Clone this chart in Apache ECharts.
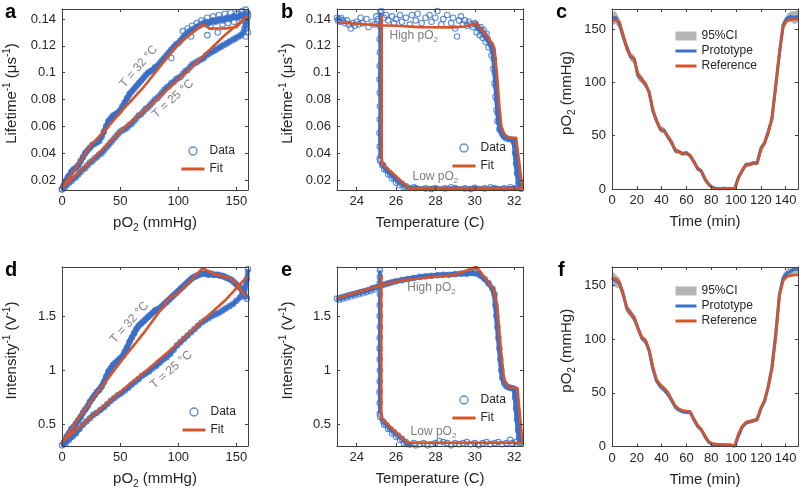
<!DOCTYPE html>
<html><head><meta charset="utf-8">
<script src="https://cdn.jsdelivr.net/npm/echarts@6.0.0/dist/echarts.min.js"></script>
<style>html,body{margin:0;padding:0;background:#fff}#chart{width:800px;height:499px}</style>
</head><body><div id="chart"></div>
<script>
// ---------------- DATA ----------------
// Panel a: lifetime^-1 vs pO2
const aData32 = [[0,0.013],[1,0.015],[2,0.017],[3,0.019],[4,0.020],[5,0.022],[6,0.023],[8,0.026],[10,0.028],[12,0.029],[14,0.031],[16,0.034],[18,0.037],[20,0.040],[22,0.042],[24,0.044],[26,0.046],[28,0.047],[30,0.048],[32,0.049],[34,0.052],[36,0.056],[38,0.060],[40,0.064],[42,0.066],[44,0.068],[46,0.069],[48,0.070],[50,0.072],[52,0.075],[54,0.078],[56,0.081],[58,0.084],[60,0.086],[62,0.088],[64,0.090],[66,0.092],[68,0.094],[70,0.096],[72,0.098],[74,0.100],[76,0.101],[78,0.102],[80,0.104],[82,0.105],[84,0.107],[86,0.109],[88,0.111],[90,0.113],[92,0.115],[94,0.117],[96,0.119],[98,0.121],[100,0.122],[102,0.124],[104,0.126],[106,0.128],[108,0.129],[110,0.131],[112,0.132],[114,0.133],[116,0.134],[118,0.135],[120,0.136],[122,0.137],[124,0.138],[126,0.137],[128,0.138],[130,0.139],[132,0.138],[134,0.139],[136,0.140],[138,0.139],[140,0.140],[142,0.141],[144,0.140],[146,0.141],[148,0.142],[150,0.141],[152,0.142],[154,0.143],[156,0.142],[158,0.144],[159,0.145]];
const aData25 = [[0,0.013],[2,0.014],[4,0.016],[6,0.018],[8,0.019],[10,0.021],[12,0.022],[14,0.024],[16,0.026],[18,0.028],[20,0.029],[22,0.031],[24,0.033],[26,0.034],[28,0.036],[30,0.037],[32,0.039],[34,0.040],[36,0.042],[38,0.044],[40,0.046],[42,0.048],[44,0.050],[46,0.052],[48,0.054],[50,0.056],[52,0.057],[54,0.058],[56,0.059],[58,0.061],[60,0.062],[62,0.064],[64,0.066],[66,0.068],[68,0.069],[70,0.071],[72,0.073],[74,0.074],[76,0.076],[78,0.078],[80,0.080],[82,0.081],[84,0.083],[86,0.085],[88,0.087],[90,0.089],[92,0.090],[94,0.092],[96,0.093],[98,0.095],[100,0.096],[102,0.097],[104,0.099],[106,0.101],[108,0.102],[110,0.104],[112,0.106],[114,0.107],[116,0.108],[118,0.109],[120,0.110],[122,0.111],[124,0.113],[126,0.114],[128,0.115],[130,0.116],[132,0.117],[134,0.118],[136,0.119],[138,0.120],[140,0.121],[142,0.122],[144,0.123],[146,0.124],[148,0.125],[150,0.126],[152,0.127],[154,0.128],[156,0.130],[157,0.133],[158,0.136],[159,0.139],[160,0.142]];
const aDataExtra = [[104,0.131],[108,0.133],[112,0.135],[116,0.137],[120,0.139],[125,0.141],[130,0.142],[135,0.143],[140,0.144],[145,0.145],[150,0.144],[155,0.146],[158,0.147],[128,0.134],[138,0.136],[148,0.138],[155,0.139],[159,0.136],[159,0.133],[160,0.130],[158,0.127],[108,0.130],[125,0.128],[134,0.130],[94,0.111],[111,0.127],[143,0.137],[152,0.144],[157,0.141],[160,0.144]];
const aFit32 = [[0,0.014],[12,0.029],[24,0.045],[38,0.058],[52,0.072],[70,0.089],[91,0.112],[101,0.122],[121,0.136],[127,0.133],[140,0.133],[150,0.134],[159,0.142]];
const aFit25 = [[0,0.014],[25,0.034],[50,0.056],[75,0.075],[100,0.095],[120,0.111],[140,0.128],[159,0.142]];

// Panel b: lifetime^-1 vs temperature
const bDataHigh = [[23.0,0.141],[23.05,0.139],[23.1,0.140],[23.15,0.138],[23.2,0.141],[23.3,0.139],[23.4,0.137],[23.5,0.139],[23.6,0.136],[23.7,0.133],[23.8,0.137],[23.9,0.135],[24.0,0.138],[24.1,0.136],[24.2,0.141],[24.3,0.137],[24.5,0.140],[24.6,0.134],[24.8,0.138],[24.9,0.136],[25.0,0.142],[25.1,0.140],[25.25,0.146],[25.4,0.141],[25.5,0.143],[25.6,0.139],[25.8,0.142],[25.9,0.137],[26.0,0.140],[26.2,0.143],[26.3,0.138],[26.5,0.141],[26.7,0.136],[26.8,0.143],[27.0,0.139],[27.1,0.144],[27.3,0.137],[27.5,0.141],[27.7,0.143],[27.8,0.138],[28.0,0.141],[28.1,0.146],[28.3,0.136],[28.4,0.140],[28.6,0.143],[28.8,0.137],[28.9,0.141],[29.0,0.133],[29.1,0.127],[29.2,0.139],[29.3,0.142],[29.4,0.136],[29.5,0.139],[29.6,0.135],[29.7,0.138],[29.8,0.136],[29.9,0.134],[30.0,0.137]];
const bDataDrop = [[30.05,0.136],[30.2,0.133],[30.35,0.131],[30.5,0.128],[30.65,0.125],[30.8,0.121],[30.9,0.117],[30.97,0.110],[31.02,0.100],[31.07,0.090],[31.12,0.080],[31.17,0.070],[31.22,0.063],[31.3,0.057],[31.4,0.054],[31.5,0.052],[31.6,0.051],[31.75,0.0505],[31.9,0.050],[32.0,0.048],[32.05,0.040],[32.1,0.032],[32.15,0.025],[32.22,0.018],[32.3,0.0145]];
const bDataDropExtra = [[30.1,0.130],[30.25,0.128],[30.4,0.126],[30.55,0.123],[30.7,0.119],[30.85,0.113],[30.95,0.103],[31.0,0.092],[31.05,0.082],[31.1,0.072],[31.15,0.064],[31.25,0.058],[30.3,0.134],[30.45,0.132],[30.6,0.129]];
const bDataLow = [[32.35,0.0135],[32.0,0.014],[31.5,0.0138],[31.0,0.014],[30.5,0.0137],[30.0,0.0141],[29.5,0.0137],[29.0,0.014],[28.5,0.0137],[28.0,0.014],[27.5,0.0137],[27.0,0.0139],[26.7,0.014],[26.5,0.0152],[26.3,0.017],[26.1,0.019],[25.9,0.0215],[25.7,0.0245],[25.5,0.0275],[25.35,0.031],[25.2,0.034]];
const bDataLowExtra = [[26.4,0.0145],[26.2,0.016],[26.0,0.018],[25.8,0.021],[25.6,0.024],[25.4,0.028],[25.3,0.031],[31.8,0.0145],[30.8,0.0145],[29.8,0.0133],[28.8,0.0145],[27.8,0.0133],[26.9,0.0145]];
const bDataVert = [[25.17,0.036],[25.17,0.045],[25.16,0.055],[25.17,0.065],[25.18,0.075],[25.17,0.085],[25.16,0.095],[25.17,0.105],[25.18,0.115],[25.17,0.125],[25.17,0.135],[25.2,0.145]];
const bFit = [[23,0.1374],[24,0.1365],[25,0.1355],[26,0.135],[27.2,0.134],[28.9,0.1338],[29.5,0.1345],[30.1,0.1368],[30.9,0.1215],[31.0,0.118],[31.15,0.095],[31.25,0.075],[31.35,0.060],[31.5,0.054],[31.7,0.0515],[32.1,0.0515],[32.42,0.014],[26.65,0.014],[25.27,0.0325],[25.27,0.143]];

// Panels c and f: pO2 vs time
const timeMin = [0,3,6,9,12,15,18,21,24,27,30,33,36,39,42,45,48,51,54,57,60,63,66,69,72,75,78,81,84,87,90,93,96,99,102,105,108,111,114,117,120,123,126,129,132,135,138,141,144,147,150];
const cReference = [158,158.5,157,145,131,125,121,108,102,99.5,90,75,63,57,54,50,43,37,34.5,33.5,33,32,25,20,16.5,10,4,1,0.5,0.3,0.2,0.2,0.2,0.3,10,18,22,23.5,24,24.5,36,44,52,67,95,128,152,158,159,159.5,159.5];
const cPrototype = [160,161,155,143,133,124,122,106,103,98,91,73,64,56,55,49,44,36,35,33,34,31,26,19,17,9,4.5,1.5,0.5,0.2,0.5,0.3,0.4,0.5,11,17,23,23,24.5,24,38,43,54,66,97,127,154,160,162,161,162];
const cCIhalf = [6,6,5,5,4,4,4,4,4,3,3,3,3,3,3,3,3,3,2,2,2,2,2,2,2,2,1.5,1,1,1,1,1,1,1,2,2,2,2,2,2,2,2,3,3,3,3,4,4,5,6,6];
const fReference = [155.5,156,153,141,129,123,120.5,109,102,99,90,74,62,57.5,54.5,50.5,44,38,35,33.5,33,32.5,26,20,16,10,4.5,2.8,2.2,1.8,1.6,1.5,1.4,1,12,19,22.5,23.5,24,25.5,36,43,55,72,101,140,154,158,159,159.5,159.5];
const fPrototype = [157,154,152,142,128,124,119,110,101,98,89,72,61,56,53,49,43,37,34,32.5,32,32,25,19,15.5,9,4,2,1.8,1.5,1.5,1.3,1.2,0.2,10,18,22,23,24,25,35,42,56,74,104,141,157,161,163,165,165];
const fCIhalf = [6,6,5,5,4,4,4,4,3,3,3,3,3,3,3,3,3,3,2,2,2,2,2,2,2,2,1.5,1,1,1,1,1,1,1,2,2,2,2,2,2,2,2,3,3,3,3,4,4,5,5,5];

// Panel d: intensity^-1 vs pO2
const dData32 = [[0,0.31],[2,0.34],[4,0.39],[6,0.42],[8,0.46],[10,0.48],[12,0.51],[14,0.54],[16,0.57],[18,0.61],[20,0.64],[22,0.67],[24,0.71],[26,0.74],[28,0.77],[30,0.80],[32,0.82],[34,0.85],[36,0.89],[38,0.94],[40,0.99],[42,1.02],[44,1.05],[46,1.07],[48,1.09],[50,1.11],[52,1.13],[54,1.17],[56,1.21],[58,1.26],[60,1.30],[62,1.34],[64,1.38],[66,1.41],[68,1.43],[70,1.45],[72,1.47],[74,1.49],[76,1.51],[78,1.53],[80,1.55],[82,1.56],[84,1.57],[86,1.59],[88,1.61],[90,1.63],[92,1.65],[94,1.67],[96,1.69],[98,1.71],[100,1.73],[102,1.75],[104,1.77],[106,1.79],[108,1.81],[110,1.83],[112,1.85],[114,1.86],[116,1.87],[118,1.88],[120,1.89],[122,1.89],[124,1.89],[126,1.88],[128,1.89],[130,1.88],[132,1.88],[134,1.88],[136,1.87],[138,1.87],[140,1.86],[142,1.85],[144,1.84],[146,1.83],[148,1.81],[150,1.79],[152,1.77],[154,1.75],[156,1.72],[158,1.68],[159,1.66]];
const dData25 = [[0,0.30],[3,0.33],[6,0.36],[9,0.39],[12,0.42],[15,0.46],[18,0.50],[21,0.53],[24,0.56],[27,0.59],[30,0.61],[33,0.635],[36,0.66],[39,0.69],[42,0.72],[45,0.745],[48,0.77],[51,0.79],[54,0.815],[57,0.84],[60,0.87],[63,0.895],[66,0.92],[69,0.95],[72,0.97],[75,0.99],[78,1.02],[81,1.04],[84,1.07],[87,1.10],[90,1.12],[93,1.15],[96,1.19],[99,1.23],[102,1.26],[105,1.29],[108,1.32],[111,1.35],[114,1.38],[117,1.41],[120,1.44],[123,1.46],[126,1.48],[129,1.50],[132,1.515],[135,1.53],[138,1.55],[141,1.57],[144,1.59],[147,1.61],[150,1.64],[153,1.67],[155,1.70],[157,1.74],[158,1.78],[159,1.84],[160,1.93]];
const dFit32 = [[0,0.33],[15,0.57],[30,0.79],[52,1.10],[70,1.34],[92,1.66],[101,1.72],[121,1.94],[130,1.89],[144,1.85],[150,1.80],[158,1.68]];
const dFit25 = [[0,0.34],[25,0.57],[50,0.80],[75,1.02],[100,1.25],[120,1.45],[140,1.64],[159,1.86]];

// Panel e: intensity^-1 vs temperature
const eDataHigh = [[23,1.66],[23.2,1.67],[23.4,1.68],[23.6,1.69],[23.8,1.70],[24,1.71],[24.2,1.72],[24.4,1.73],[24.6,1.74],[24.8,1.755],[25,1.765],[25.2,1.775],[25.4,1.79],[25.6,1.80],[25.8,1.81],[26,1.82],[26.3,1.83],[26.6,1.84],[26.9,1.85],[27.2,1.86],[27.5,1.865],[27.8,1.87],[28.1,1.875],[28.4,1.88],[28.7,1.88],[29,1.885],[29.3,1.89],[29.6,1.89],[29.9,1.895],[30.1,1.89],[30.3,1.87],[30.5,1.84],[30.7,1.80],[30.9,1.75],[31.0,1.70],[31.05,1.60],[31.1,1.50],[31.15,1.40],[31.2,1.30],[31.25,1.20],[31.3,1.10],[31.35,1.00],[31.4,0.93],[31.5,0.88],[31.6,0.855],[31.7,0.845],[31.8,0.84],[31.9,0.835],[32.0,0.83],[32.05,0.75],[32.1,0.65],[32.15,0.55],[32.2,0.45],[32.25,0.38],[32.3,0.34]];
const eDataHighExtra = [[23.1,1.65],[23.3,1.66],[23.5,1.67],[23.7,1.68],[23.9,1.69],[24.1,1.70],[24.3,1.71],[24.5,1.72],[24.7,1.73],[24.9,1.745],[29.8,1.91],[30.0,1.91]];
const eDataDiag = [[25.2,0.57],[25.35,0.53],[25.5,0.50],[25.7,0.46],[25.9,0.43],[26.1,0.40],[26.3,0.37],[26.5,0.34],[26.6,0.32],[26.8,0.30]];
const eDataLow = [[32.3,0.33],[32.1,0.34],[31.9,0.33],[31.8,0.36],[31.6,0.33],[31.4,0.32],[31.2,0.34],[31.0,0.33],[30.8,0.32],[30.6,0.34],[30.4,0.33],[30.2,0.31],[30.0,0.33],[29.8,0.32],[29.6,0.34],[29.4,0.33],[29.2,0.32],[29.0,0.33],[28.8,0.31],[28.6,0.33],[28.4,0.34],[28.2,0.35],[28.0,0.33],[27.8,0.32],[27.6,0.31],[27.4,0.33],[27.2,0.32],[27.0,0.31],[26.9,0.33],[26.4,0.33],[26.2,0.36],[26.0,0.39],[25.8,0.42],[25.6,0.46],[25.4,0.50]];
const eDataVert = [[25.17,0.60],[25.17,0.70],[25.16,0.80],[25.17,0.90],[25.18,1.00],[25.17,1.10],[25.16,1.20],[25.17,1.30],[25.18,1.40],[25.17,1.50],[25.17,1.60],[25.18,1.70],[25.17,1.80],[25.18,1.86],[25.18,1.92]];
const eFit = [[23,1.663],[25.28,1.785],[26.38,1.831],[28.9,1.877],[29.28,1.898],[30.09,1.953],[30.97,1.739],[31.15,1.571],[31.32,1.187],[31.49,0.911],[31.74,0.844],[32.17,0.835],[32.42,0.334],[26.56,0.334],[25.25,0.559],[25.25,1.88]];

// Tick values
const ticksPO2 = [0,50,100,150];
const ticksTemp = [24,26,28,30,32];
const ticksTime = [0,20,40,60,80,100,120,140];
const ticksLife = [0.02,0.04,0.06,0.08,0.1,0.12,0.14];
const ticksInt = [0.5,1,1.5];
const ticksPO2y = [0,50,100,150];

// ---------------- STYLE ----------------
const BLUE = '#3b6fc8', ORANGE = '#d5542a', GRAY = '#b4b4b4', TXT = '#262626', ANN = '#7d7d7d', AX = '#404040';
const FONT = '"Liberation Sans", Arial, Helvetica, sans-serif';
const GRIDS = [
  {left:62, top:9, width:186, height:181},
  {left:337, top:9, width:186, height:181},
  {left:612, top:9, width:186, height:180},
  {left:62, top:267, width:186, height:179},
  {left:337, top:267, width:186, height:179},
  {left:612, top:267, width:186, height:179.5}
];
const rich = {
  t: {fontSize:15, fontFamily:FONT, color:TXT, lineHeight:20, verticalAlign:'middle'},
  s: {fontSize:10, fontFamily:FONT, color:TXT, lineHeight:10, verticalAlign:'top'},
  b: {fontSize:10, fontFamily:FONT, color:TXT, lineHeight:7, verticalAlign:'bottom'}
};
const xAxes = [], yAxes = [];
function addAxes(gi, xr, xt, xname, yr, yt, yname, ygap) {
  const common = {gridIndex:gi, type:'value', splitLine:{show:false}, z:5,
    axisLine:{show:true, onZero:false, lineStyle:{color:AX, width:1}}};
  xAxes.push(Object.assign({}, common, {position:'bottom', min:xr[0], max:xr[1],
    axisTick:{show:true, inside:true, length:3, customValues:xt, lineStyle:{color:AX}},
    axisLabel:{show:true, customValues:xt, margin:5, color:TXT, fontSize:13, fontFamily:FONT},
    name:xname, nameLocation:'middle', nameGap:23, nameTextStyle:{rich:rich}}));
  xAxes.push(Object.assign({}, common, {position:'top', min:xr[0], max:xr[1],
    axisTick:{show:true, inside:true, length:3, customValues:xt, lineStyle:{color:AX}},
    axisLabel:{show:false}}));
  yAxes.push(Object.assign({}, common, {position:'left', min:yr[0], max:yr[1],
    axisTick:{show:true, inside:true, length:3, customValues:yt, lineStyle:{color:AX}},
    axisLabel:{show:true, customValues:yt, margin:6, color:TXT, fontSize:13, fontFamily:FONT},
    name:yname, nameLocation:'middle', nameGap:ygap, nameTextStyle:{rich:rich, padding:[0,0,0,12]}}));
  yAxes.push(Object.assign({}, common, {position:'right', min:yr[0], max:yr[1],
    axisTick:{show:true, inside:true, length:3, customValues:yt, lineStyle:{color:AX}},
    axisLabel:{show:false}}));
}
const PO2X = '{t|pO}{b|2}{t| (mmHg)}';
addAxes(0, [0,160], ticksPO2, PO2X, [0.0125,0.1475], ticksLife, '{t|Lifetime}{s|-1}{t| (μs}{s|-1}{t|)}', 40);
addAxes(1, [23,32.45], ticksTemp, '{t|Temperature (C)}', [0.0125,0.1475], ticksLife, '{t|Lifetime}{s|-1}{t| (μs}{s|-1}{t|)}', 39);
addAxes(2, [0,150], ticksTime, '{t|Time (min)}', [0,169], ticksPO2y, PO2X, 35);
addAxes(3, [0,160], ticksPO2, PO2X, [0.304,1.951], ticksInt, '{t|Intensity}{s|-1}{t| (V}{s|-1}{t|)}', 40);
addAxes(4, [23,32.45], ticksTemp, '{t|Temperature (C)}', [0.304,1.951], ticksInt, '{t|Intensity}{s|-1}{t| (V}{s|-1}{t|)}', 39);
addAxes(5, [0,150], ticksTime, '{t|Time (min)}', [0,167], ticksPO2y, PO2X, 35);

const series = [];
function ax(gi) { return {xAxisIndex:2*gi, yAxisIndex:2*gi}; }
function band(gi, data, w) {
  series.push(Object.assign({type:'line', name:'band', data:data, symbol:'none', silent:true, z:1,
    lineStyle:{color:BLUE, width:w || 4.5, join:'round'}}, ax(gi)));
}
function scat(gi, data) {
  series.push(Object.assign({type:'scatter', name:'Data', data:data, symbol:'circle', symbolSize:5.5, silent:true, z:2,
    itemStyle:{color:'rgba(255,255,255,0)', borderColor:BLUE, borderWidth:1.1}}, ax(gi)));
}
function fit(gi, data, mp) {
  const s = Object.assign({type:'line', name:'Fit', data:data, symbol:'none', silent:true, z:3,
    lineStyle:{color:ORANGE, width:2.6, join:'round'}, itemStyle:{color:ORANGE}}, ax(gi));
  if (mp) s.markPoint = mp;
  series.push(s);
}
const annStyle = {show:true, position:'inside', color:ANN, fontSize:12, fontFamily:FONT,
  rich:{g:{fontSize:12, color:ANN, fontFamily:FONT, lineHeight:16, verticalAlign:'middle'}, gb:{fontSize:8, color:ANN, fontFamily:FONT, lineHeight:6, verticalAlign:'bottom'}}};
function marks(items) {
  return {symbol:'circle', symbolSize:1, silent:true, itemStyle:{color:'rgba(0,0,0,0)'}, label:annStyle,
    data: items.map(it => ({coord:it[0], label:{rotate:it[2], formatter:it[1]}}))};
}
// a
band(0, aData32, 5); band(0, aData25, 4);
scat(0, aData32); scat(0, aData25); scat(0, aDataExtra);
fit(0, aFit32, marks([[[66.0,0.1045],'{g|T = 32 °C}',49],[[95.5,0.0805],'{g|T = 25 °C}',42]]));
fit(0, aFit25);
// b
band(1, bDataDrop, 5); band(1, bDataLow, 4); band(1, bDataVert, 3);
scat(1, bDataHigh); scat(1, bDataDrop); scat(1, bDataDropExtra); scat(1, bDataLow); scat(1, bDataLowExtra); scat(1, bDataVert);
fit(1, bFit, marks([[[26.9,0.1273],'{g|High pO}{gb|2}',0],[[28.0,0.0222],'{g|Low pO}{gb|2}',0]]));
// d
band(3, dData32, 5.5); band(3, dData25, 4.5);
scat(3, dData32); scat(3, dData25);
fit(3, dFit32, marks([[[58,1.44],'{g|T = 32 °C}',48],[[94,1.005],'{g|T = 25 °C}',41]]));
fit(3, dFit25);
// e
band(4, eDataHigh, 5); band(4, eDataDiag, 4); band(4, eDataVert, 3.5);
scat(4, eDataHigh); scat(4, eDataHighExtra); scat(4, eDataDiag); scat(4, eDataLow); scat(4, eDataVert);
fit(4, eFit, marks([[[27.8,1.758],'{g|High pO}{gb|2}',0],[[27.9,0.433],'{g|Low pO}{gb|2}',0]]));
// c, f
function timePanel(gi, ref, proto, ci) {
  const lo = proto.map((v,i) => v - ci[i]);
  const hi = proto.map((v,i) => v + ci[i]);
  series.push(Object.assign({type:'custom', name:'95%CI', coordinateSystem:'cartesian2d', silent:true, z:1, clip:true,
    itemStyle:{color:GRAY},
    data: timeMin.map((t,i) => [t, lo[i], hi[i]]),
    encode:{x:0, y:[1,2]},
    renderItem: function (params, api) {
      if (params.dataIndex !== 0) return null;
      const pts = [];
      for (let i = 0; i < timeMin.length; i++) pts.push(api.coord([timeMin[i], hi[i]]));
      for (let i = timeMin.length - 1; i >= 0; i--) pts.push(api.coord([timeMin[i], lo[i]]));
      return {type:'polygon', shape:{points:pts}, style:{fill:GRAY}};
    }}, ax(gi)));
  series.push(Object.assign({type:'line', name:'Prototype', data:timeMin.map((t,i)=>[t, proto[i]]),
    symbol:'none', silent:true, lineStyle:{color:BLUE, width:3.2}, itemStyle:{color:BLUE}, z:2}, ax(gi)));
  series.push(Object.assign({type:'line', name:'Reference', data:timeMin.map((t,i)=>[t, ref[i]]),
    symbol:'none', silent:true, lineStyle:{color:ORANGE, width:2.6}, itemStyle:{color:ORANGE}, z:3}, ax(gi)));
}
timePanel(2, cReference, cPrototype, cCIhalf);
timePanel(5, fReference, fPrototype, fCIhalf);

const NOSYM = {color:'rgba(0,0,0,0)', borderWidth:0, borderColor:'rgba(0,0,0,0)'};
function fitLegend(left, top) {
  return {left:left, top:top, padding:0, orient:'vertical', itemWidth:23, itemHeight:8, itemGap:6, selectedMode:false,
    textStyle:{fontSize:12, color:TXT, fontFamily:FONT},
    data:[{name:'Data', icon:'circle', itemStyle:{color:'rgba(255,255,255,0)', borderColor:BLUE, borderWidth:1.4}},
          {name:'Fit', itemStyle:NOSYM, lineStyle:{color:ORANGE, width:3}}]};
}
function timeLegend(left, top) {
  return {left:left, top:top, padding:0, orient:'vertical', itemWidth:21, itemHeight:9, itemGap:3, selectedMode:false,
    textStyle:{fontSize:12, color:TXT, fontFamily:FONT},
    data:[{name:'95%CI', icon:'rect', itemStyle:{color:GRAY}},
          {name:'Prototype', itemStyle:NOSYM, lineStyle:{color:BLUE, width:3}},
          {name:'Reference', itemStyle:NOSYM, lineStyle:{color:ORANGE, width:3}}]};
}
const letters = [['a',5,12],['b',281,12],['c',556,12],['d',5,270],['e',281,270],['f',558,270]];

const chart = echarts.init(document.getElementById('chart'));
chart.setOption({
  animation:false,
  backgroundColor:'#fff',
  grid: GRIDS,
  xAxis: xAxes,
  yAxis: yAxes,
  legend: [fitLegend(180,145), fitLegend(451,142), timeLegend(674,30), fitLegend(181,406), fitLegend(451,394), timeLegend(674,285)],
  graphic: letters.map(l => ({type:'text', x:l[1], y:l[2], silent:true,
    style:{text:l[0], fill:'#000', font:'bold 20px ' + FONT, verticalAlign:'middle'}})),
  series: series
});
</script></body></html>
